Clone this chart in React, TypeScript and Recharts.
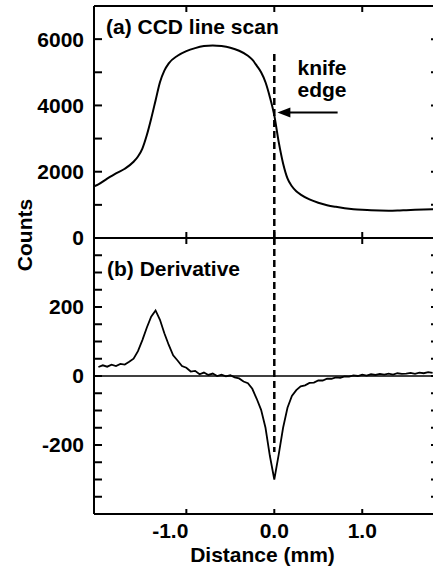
import React from "react";
import { LineChart, Line, XAxis, YAxis, ReferenceLine, ReferenceDot } from "recharts";

// (a) CCD line scan
const ccdPos = [
  -2.05, -2.0, -1.9, -1.8, -1.7, -1.6, -1.55, -1.5, -1.45, -1.4, -1.35, -1.3, -1.25, -1.2, -1.1, -1.0,
  -0.9, -0.8, -0.7, -0.6, -0.5, -0.4, -0.3, -0.25, -0.2, -0.15, -0.1, -0.05, 0.0, 0.05, 0.1, 0.15,
  0.2, 0.25, 0.3, 0.4, 0.5, 0.6, 0.7, 0.8, 0.9, 1.0, 1.1, 1.2, 1.3, 1.4, 1.5, 1.6, 1.7, 1.8, 1.85,
];
const ccdCounts = [
  1560, 1620, 1790, 1950, 2090, 2300, 2460, 2700, 3100, 3600, 4150, 4700, 5050, 5270, 5500, 5640,
  5730, 5790, 5810, 5790, 5740, 5650, 5500, 5380, 5200, 5000, 4700, 4250, 3700, 2900, 2250, 1800,
  1560, 1410, 1310, 1165, 1065, 990, 940, 900, 870, 850, 835, 828, 825, 830, 840, 850, 860, 870, 875,
];

// (b) Derivative
const derivPos = [
  -2.0, -1.95, -1.9, -1.85, -1.8, -1.75, -1.7, -1.65, -1.6, -1.55, -1.5, -1.45, -1.4, -1.35, -1.3, -1.25,
  -1.2, -1.15, -1.1, -1.05, -1.0, -0.95, -0.9, -0.85, -0.8, -0.75, -0.7, -0.65, -0.6, -0.55, -0.5, -0.45,
  -0.4, -0.35, -0.3, -0.25, -0.2, -0.15, -0.1, -0.05, 0.0, 0.05, 0.1, 0.15, 0.2, 0.25, 0.3, 0.35,
  0.4, 0.45, 0.5, 0.55, 0.6, 0.65, 0.7, 0.75, 0.8, 0.85, 0.9, 0.95, 1.0, 1.05, 1.1, 1.15,
  1.2, 1.25, 1.3, 1.35, 1.4, 1.45, 1.5, 1.55, 1.6, 1.65, 1.7, 1.75, 1.8,
];
const derivVals = [
  26, 31, 27, 33, 29, 35, 33, 41, 50, 72, 104, 140, 172, 190, 163, 124,
  90, 60, 45, 29, 24, 13, 15, 5, 10, 3, 7, 0, 4, -1, 2, -4,
  -7, -16, -21, -37, -66, -98, -150, -232, -300, -228, -150, -92, -58, -41, -30, -27,
  -20, -19, -13, -13, -8, -8, -4, -5, -1, -2, 2, 0, 4, 1, 5, 3,
  6, 4, 7, 4, 8, 6, 7, 9, 6, 10, 8, 11, 9,
];

const distTicks = [-1, 0, 1];
const countTicks = [0, 1000, 2000, 3000, 4000, 5000, 6000];
const derivTicks = [-350, -300, -250, -200, -150, -100, -50, 0, 50, 100, 150, 200, 250, 300, 350];

const FONT = "'Liberation Sans', Arial, Helvetica, sans-serif";
const tickStyle = { fill: "#000", fontSize: 21, fontWeight: 700, fontFamily: FONT };
const axisStroke = { stroke: "#000", strokeWidth: 2 };

const ccdData = ccdPos.map((x, i) => ({ x, y: ccdCounts[i] }));
const derivData = derivPos.map((x, i) => ({ x, y: derivVals[i] }));

function DistTick(props: any) {
  const { x, y, payload } = props;
  const v = payload.value;
  return (
    <text
      x={v < 0 ? x + 2 : x}
      y={y}
      dy="0.71em"
      textAnchor={v < 0 ? "end" : "middle"}
      fill="#000"
      fontSize={21}
      fontWeight={700}
      fontFamily={FONT}
    >
      {v.toFixed(1)}
    </text>
  );
}

function ArrowHead(props: any) {
  const { cx, cy } = props;
  return <polygon points={`${cx},${cy} ${cx + 13},${cy - 5} ${cx + 13},${cy + 5}`} fill="#000" />;
}

// frame axes without labels (ticks pointing into the plot)
function frameX(id: string, orientation: "top" | "bottom") {
  return (
    <XAxis
      xAxisId={id}
      orientation={orientation}
      type="number"
      dataKey="x"
      domain={[-2.05, 1.85]}
      allowDataOverflow
      ticks={distTicks}
      height={1}
      tickSize={-6}
      tickFormatter={() => ""}
      axisLine={axisStroke}
      tickLine={axisStroke}
    />
  );
}

export default function App() {
  return (
    <div
      style={{
        position: "fixed",
        left: 0,
        top: 0,
        width: 433,
        height: 574,
        overflow: "hidden",
        background: "#fff",
        fontFamily: FONT,
      }}
    >
      {/* top panel */}
      <div style={{ position: "absolute", left: 0, top: 0 }}>
        <LineChart width={440} height={250} data={ccdData} margin={{ top: 5, right: 2, left: 0, bottom: 11 }}>
          {frameX("b", "bottom")}
          {frameX("t", "top")}
          <YAxis
            type="number"
            domain={[0, 7000]}
            allowDataOverflow
            ticks={countTicks}
            width={94}
            tickSize={-8}
            tickMargin={18}
            interval={0}
            tickFormatter={(v: number) => (v % 2000 === 0 ? String(v) : "")}
            tick={tickStyle}
            axisLine={axisStroke}
            tickLine={axisStroke}
          />
          <YAxis
            yAxisId="r"
            orientation="right"
            type="number"
            domain={[0, 7000]}
            allowDataOverflow
            ticks={countTicks}
            width={1}
            tickSize={-6}
            interval={0}
            tickFormatter={() => ""}
            axisLine={axisStroke}
            tickLine={axisStroke}
          />
          <ReferenceLine
            xAxisId="b"
            segment={[{ x: 0, y: 5550 }, { x: 0, y: 0 }]}
            stroke="#000"
            strokeWidth={2.5}
            strokeDasharray="7 4"
          />
          <ReferenceLine
            xAxisId="b"
            segment={[{ x: 0.12, y: 3790 }, { x: 0.72, y: 3790 }]}
            stroke="#000"
            strokeWidth={2}
          />
          <ReferenceDot xAxisId="b" x={0.035} y={3790} r={0} shape={ArrowHead} />
          <Line
            xAxisId="b"
            type="monotone"
            dataKey="y"
            stroke="#000"
            strokeWidth={2}
            dot={false}
            isAnimationActive={false}
          />
        </LineChart>
      </div>

      {/* bottom panel */}
      <div style={{ position: "absolute", left: 0, top: 226 }}>
        <LineChart width={440} height={348} data={derivData} margin={{ top: 11, right: 2, left: 0, bottom: 0 }}>
          <XAxis
            xAxisId="b"
            type="number"
            dataKey="x"
            domain={[-2.05, 1.85]}
            allowDataOverflow
            ticks={distTicks}
            height={60}
            tickSize={-5}
            tickMargin={14}
            tick={<DistTick />}
            axisLine={axisStroke}
            tickLine={axisStroke}
            label={{
              value: "Distance (mm)",
              position: "insideBottom",
              offset: 12,
              dx: -3,
              fill: "#000",
              fontSize: 21,
              fontWeight: 700,
              fontFamily: FONT,
            }}
          />
          {frameX("t", "top")}
          <YAxis
            type="number"
            domain={[-400, 400]}
            allowDataOverflow
            ticks={derivTicks}
            width={94}
            tickSize={-8}
            tickMargin={18}
            interval={0}
            tickFormatter={(v: number) => (v % 200 === 0 ? String(v) : "")}
            tick={tickStyle}
            axisLine={axisStroke}
            tickLine={axisStroke}
          />
          <YAxis
            yAxisId="r"
            orientation="right"
            type="number"
            domain={[-400, 400]}
            allowDataOverflow
            ticks={derivTicks}
            width={1}
            tickSize={-6}
            interval={0}
            tickFormatter={() => ""}
            axisLine={axisStroke}
            tickLine={axisStroke}
          />
          <ReferenceLine xAxisId="b" y={0} stroke="#000" strokeWidth={1.5} />
          <ReferenceLine
            xAxisId="b"
            segment={[{ x: 0, y: 400 }, { x: 0, y: -220 }]}
            stroke="#000"
            strokeWidth={2.5}
            strokeDasharray="7 4"
          />
          <Line
            xAxisId="b"
            type="linear"
            dataKey="y"
            stroke="#000"
            strokeWidth={1.8}
            dot={false}
            isAnimationActive={false}
          />
        </LineChart>
      </div>

      {/* text annotations */}
      <svg
        width={433}
        height={574}
        style={{ position: "absolute", left: 0, top: 0, pointerEvents: "none" }}
        fontFamily={FONT}
        fontWeight={700}
        fontSize={21}
        fill="#000"
      >
        <text x={106} y={34}>(a) CCD line scan</text>
        <text x={107} y={276}>(b) Derivative</text>
        <text x={322} y={75} textAnchor="middle">knife</text>
        <text x={322} y={97} textAnchor="middle">edge</text>
        <text x={32} y={235} textAnchor="middle" transform="rotate(-90 32 235)">Counts</text>
      </svg>
    </div>
  );
}
